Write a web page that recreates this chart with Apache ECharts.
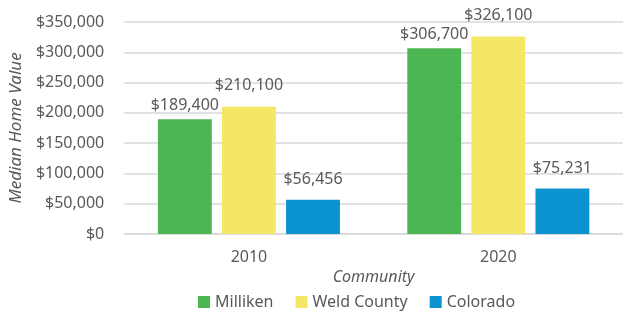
<!DOCTYPE html>
<html>
<head>
<meta charset="utf-8">
<script src="https://cdn.jsdelivr.net/npm/echarts@6/dist/echarts.min.js"></script>
<style>
  html, body { margin: 0; padding: 0; background: #fff; }
  #chart { width: 623px; height: 312px; }
</style>
</head>
<body>
<div id="chart"></div>
<script>
const years = ['2010', '2020']
const milliken = [189400, 306700]
const weldCounty = [210100, 326100]
const colorado = [56456, 75231]
const yTicks = { min: 0, max: 350000, interval: 50000 }

const font = '"Noto Sans", sans-serif'
const textColor = '#595959'

const money = (v) => '$' + v.toLocaleString('en-US')

const chart = echarts.init(document.getElementById('chart'))

// labels sit a bit higher on the yellow and blue bars, like the original
const barSeries = (name, data, color, labelGap) => ({
  name,
  type: 'bar',
  data,
  barGap: '19%',
  barCategoryGap: '27%',
  itemStyle: { color },
  label: {
    show: true,
    position: 'top',
    distance: labelGap,
    formatter: (p) => money(p.value),
    color: textColor,
    fontFamily: font,
    fontSize: 16
  }
})

chart.setOption({
  animation: false,
  grid: { left: 122, right: 0, top: 22, bottom: 78, containLabel: false },
  legend: {
    top: 289,
    left: 193,
    itemWidth: 12,
    itemHeight: 12,
    itemGap: 22,
    icon: 'rect',
    textStyle: { color: textColor, fontFamily: font, fontSize: 16 }
  },
  xAxis: {
    type: 'category',
    data: years,
    name: 'Community',
    nameLocation: 'middle',
    nameGap: 31,
    nameTextStyle: { color: textColor, fontFamily: font, fontSize: 16, fontStyle: 'italic' },
    axisLine: { lineStyle: { color: '#d9d9d9', width: 1.5 } },
    axisTick: { show: false },
    axisLabel: { color: textColor, fontFamily: font, fontSize: 16, margin: 15 }
  },
  yAxis: {
    type: 'value',
    min: yTicks.min,
    max: yTicks.max,
    interval: yTicks.interval,
    name: 'Median Home Value',
    nameLocation: 'middle',
    nameGap: 96,
    nameTextStyle: { color: textColor, fontFamily: font, fontSize: 17, fontStyle: 'italic' },
    axisLine: { show: false },
    axisTick: { show: false },
    splitLine: { lineStyle: { color: '#d9d9d9', width: 1.5 } },
    axisLabel: { color: textColor, fontFamily: font, fontSize: 16, margin: 20, formatter: money }
  },
  series: [
    barSeries('Milliken', milliken, '#4cb752', 6),
    barSeries('Weld County', weldCounty, '#f4e765', 13),
    barSeries('Colorado', colorado, '#0b93d0', 12)
  ]
})
</script>
</body>
</html>
